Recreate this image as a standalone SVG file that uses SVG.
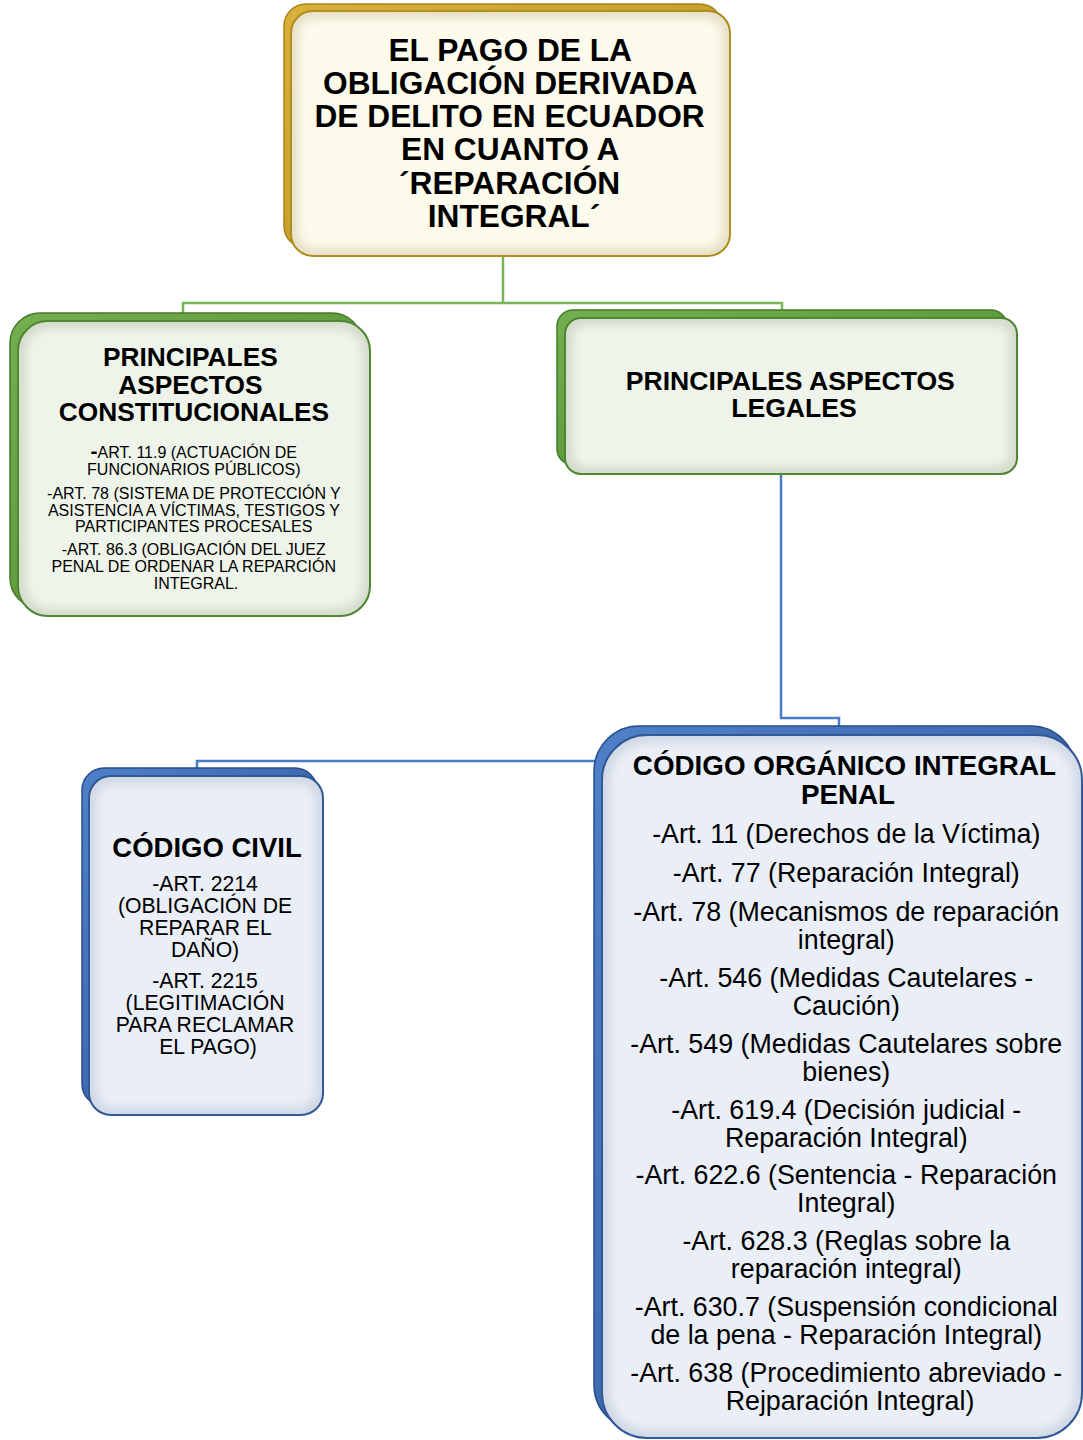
<svg xmlns="http://www.w3.org/2000/svg" width="1083" height="1440" viewBox="0 0 1083 1440">
<defs>
<filter id="soft" x="-10%" y="-10%" width="120%" height="120%"><feGaussianBlur stdDeviation="4"/></filter>
<linearGradient id="gGold" x1="0" y1="0" x2="1" y2="1"><stop offset="0" stop-color="#d9b03a"/><stop offset="1" stop-color="#b8901e"/></linearGradient>
<linearGradient id="gGreen" x1="0" y1="0" x2="1" y2="1"><stop offset="0" stop-color="#73ae4f"/><stop offset="1" stop-color="#4f8a30"/></linearGradient>
<linearGradient id="gBlue" x1="0" y1="0" x2="1" y2="1"><stop offset="0" stop-color="#4f80c8"/><stop offset="1" stop-color="#2d5597"/></linearGradient>
</defs>
<style>
.t{font-family:"Liberation Sans",Arial,sans-serif;fill:#000;text-anchor:middle}
.b{font-weight:bold}
.gold-back{fill:url(#gGold);stroke:#a9831a;stroke-width:1.5}
.gold-front{fill:#e6e1c8;stroke:#b08a1a;stroke-width:2}
.gold-in{fill:#fcfaeb}
.green-back{fill:url(#gGreen);stroke:#447a2a;stroke-width:1.5}
.green-front{fill:#d5dccd;stroke:#4a8530;stroke-width:2}
.green-in{fill:#eef4e9}
.blue-back{fill:url(#gBlue);stroke:#284e8c;stroke-width:1.5}
.blue-front{fill:#d2d9e4;stroke:#2c5596;stroke-width:2}
.blue-in{fill:#e9eef7}
.cg{fill:none;stroke:#7ab55c;stroke-width:2.5}
.cb{fill:none;stroke:#4a7bc6;stroke-width:2.5}
</style>

<g id="connectors">
<path class="cg" d="M503 256 V303 M183 313 V303 H782 V311"/>
<path class="cb" d="M781 474 V718 H839 V728"/>
<path class="cb" d="M596 761 H197 V770"/>
</g>

<g id="node-root">
<rect class="gold-back" x="284" y="4" width="438" height="244" rx="22"/>
<rect class="gold-front" x="291" y="11" width="439" height="245" rx="22"/>
<rect class="gold-in" x="299" y="19" width="423" height="229" rx="16" filter="url(#soft)"/>
<text class="t b" font-size="31.7">
<tspan x="514" y="61">EL PAGO DE LA</tspan>
<tspan x="514" y="94">OBLIGACIÓN DERIVADA</tspan>
<tspan x="514" y="127">DE DELITO EN ECUADOR</tspan>
<tspan x="514" y="160">EN CUANTO A</tspan>
<tspan x="514" y="194">´REPARACIÓN</tspan>
<tspan x="514" y="227">INTEGRAL´</tspan>
</text>
</g>

<g id="node-constitucionales">
<rect class="green-back" x="10" y="313" width="352" height="295" rx="30"/>
<rect class="green-front" x="18" y="321" width="352" height="295" rx="30"/>
<rect class="green-in" x="26" y="329" width="336" height="279" rx="24" filter="url(#soft)"/>
<text class="t b" font-size="26.3">
<tspan x="194" y="366">PRINCIPALES</tspan>
<tspan x="194" y="393.5">ASPECTOS</tspan>
<tspan x="194" y="421">CONSTITUCIONALES</tspan>
</text>
<text class="t" font-size="16">
<tspan x="196" y="458"><tspan font-size="21" font-weight="bold">-</tspan>ART. 11.9 (ACTUACIÓN DE</tspan>
<tspan x="196" y="475">FUNCIONARIOS PÚBLICOS)</tspan>
<tspan x="196" y="499">-ART. 78 (SISTEMA DE PROTECCIÓN Y</tspan>
<tspan x="196" y="516">ASISTENCIA A VÍCTIMAS, TESTIGOS Y</tspan>
<tspan x="196" y="532">PARTICIPANTES PROCESALES</tspan>
<tspan x="196" y="555">-ART. 86.3 (OBLIGACIÓN DEL JUEZ</tspan>
<tspan x="196" y="572">PENAL DE ORDENAR LA REPARCIÓN</tspan>
<tspan x="196" y="589">INTEGRAL.</tspan>
</text>
</g>

<g id="node-legales">
<rect class="green-back" x="557" y="310" width="450" height="155" rx="16"/>
<rect class="green-front" x="565" y="318" width="452" height="156" rx="16"/>
<rect class="green-in" x="573" y="326" width="436" height="140" rx="12" filter="url(#soft)"/>
<text class="t b" font-size="26.6">
<tspan x="794" y="390">PRINCIPALES ASPECTOS</tspan>
<tspan x="794" y="417">LEGALES</tspan>
</text>
</g>

<g id="node-civil">
<rect class="blue-back" x="82" y="768" width="235" height="338" rx="22"/>
<rect class="blue-front" x="89" y="776" width="234" height="339" rx="22"/>
<rect class="blue-in" x="97" y="784" width="218" height="323" rx="16" filter="url(#soft)"/>
<text class="t b" font-size="27.5">
<tspan x="207" y="857">CÓDIGO CIVIL</tspan>
</text>
<text class="t" font-size="21.2">
<tspan x="208" y="891">-ART. 2214</tspan>
<tspan x="208" y="913">(OBLIGACIÓN DE</tspan>
<tspan x="208" y="935">REPARAR EL</tspan>
<tspan x="208" y="957">DAÑO)</tspan>
<tspan x="208" y="988">-ART. 2215</tspan>
<tspan x="208" y="1010">(LEGITIMACIÓN</tspan>
<tspan x="208" y="1032">PARA RECLAMAR</tspan>
<tspan x="208" y="1054">EL PAGO)</tspan>
</text>
</g>

<g id="node-coip">
<rect class="blue-back" x="594" y="726" width="482" height="704" rx="45"/>
<rect class="blue-front" x="602" y="735" width="480" height="703" rx="45"/>
<rect class="blue-in" x="610" y="743" width="464" height="687" rx="38" filter="url(#soft)"/>
<text class="t b" font-size="27.8">
<tspan x="848" y="775">CÓDIGO ORGÁNICO INTEGRAL</tspan>
<tspan x="848" y="804">PENAL</tspan>
</text>
<text class="t" font-size="26.8">
<tspan x="850" y="843">-Art. 11 (Derechos de la Víctima)</tspan>
<tspan x="850" y="882">-Art. 77 (Reparación Integral)</tspan>
<tspan x="850" y="921">-Art. 78 (Mecanismos de reparación</tspan>
<tspan x="850" y="948.5">integral)</tspan>
<tspan x="850" y="987">-Art. 546 (Medidas Cautelares -</tspan>
<tspan x="850" y="1014.5">Caución)</tspan>
<tspan x="850" y="1053">-Art. 549 (Medidas Cautelares sobre</tspan>
<tspan x="850" y="1080.5">bienes)</tspan>
<tspan x="850" y="1119">-Art. 619.4 (Decisión judicial -</tspan>
<tspan x="850" y="1146.5">Reparación Integral)</tspan>
<tspan x="850" y="1184">-Art. 622.6 (Sentencia - Reparación</tspan>
<tspan x="850" y="1211.5">Integral)</tspan>
<tspan x="850" y="1250">-Art. 628.3 (Reglas sobre la</tspan>
<tspan x="850" y="1277.5">reparación integral)</tspan>
<tspan x="850" y="1316">-Art. 630.7 (Suspensión condicional</tspan>
<tspan x="850" y="1343.5">de la pena - Reparación Integral)</tspan>
<tspan x="850" y="1382">-Art. 638 (Procedimiento abreviado -</tspan>
<tspan x="850" y="1409.5">Rejparación Integral)</tspan>
</text>
</g>
</svg>
